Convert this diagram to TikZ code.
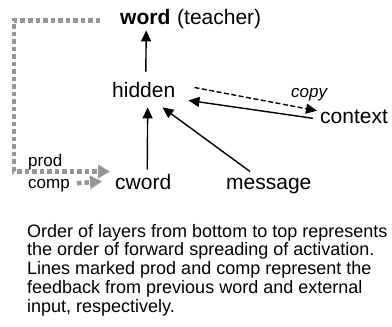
\documentclass[tikz,border=0pt]{standalone}
\usepackage{fontspec}
\setmainfont{Liberation Sans}
\usetikzlibrary{arrows.meta}

\definecolor{fbgray}{HTML}{969696}

\tikzset{
    lbl/.style = {inner sep=0pt, anchor=base west, font=\fontsize{21}{25}\selectfont},
    small/.style = {inner sep=0pt, anchor=base west, font=\fontsize{17}{20}\selectfont},
    arr/.style = {line width=1.4pt, -{Triangle[length=11pt,width=10pt]}},
    fb/.style = {draw=fbgray, line width=4.5pt, dash pattern=on 4.5pt off 3pt,
                 -{Triangle[length=12pt,width=13pt,fill=fbgray]}},
}

\begin{document}
\begin{tikzpicture}[x=1pt, y=-1pt]
            \useasboundingbox (0,0) rectangle (392,327);
            %Output layer
            \node [lbl] (word) at (120,24) {\textbf{word}};
            \node [lbl] (teacher) at (177,24) {(teacher)};
            %Hidden and context
            \node [lbl] (hidden) at (112,97) {hidden};
            \node [lbl] (context) at (320,123) {context};
            \node [small] (copy) at (291,97) {\itshape copy};
            %Input layer
            \node [lbl] (cword) at (115,189) {cword};
            \node [lbl] (message) at (226,189) {message};
            \node [small] (prod) at (28,166) {prod};
            \node [small] (comp) at (28,188) {comp};
            %Caption
            \node [inner sep=0pt, anchor=north west, align=left,
                   font=\fontsize{18}{18.7}\selectfont]
            (note) at (27,224) {Order of layers from bottom to top represents\\
                the order of forward spreading of activation.\\
                Lines marked prod and comp represent the\\
                feedback from previous word and external\\
                input, respectively.};

            \draw [arr, shorten <=10pt, shorten >=6pt]
                ([xshift=2pt]hidden.north) -- ([xshift=1pt]word.south);
            \draw [arr, shorten <=4pt, shorten >=10pt]
                ([xshift=4pt]cword.north) -- ([xshift=4pt]hidden.south);
            \draw [arr] ([xshift=24pt,yshift=6pt]message.north west)
                -- ([xshift=-13pt,yshift=-10pt]hidden.south east);
            \draw [arr] ([xshift=-7pt,yshift=-2pt]context.west)
                -- ([xshift=13pt,yshift=-3pt]hidden.south east);
            \draw [arr, dash pattern=on 5pt off 2.5pt] ([xshift=19pt,yshift=2pt]hidden.east)
                -- ([xshift=-3pt,yshift=-1.5pt]context.north west);

            %Feedback
            \draw [fb] ([xshift=-20pt,yshift=-4pt]word.west) -- ++(-86,0)
                |- ([xshift=-5pt,yshift=10pt]cword.west);
            \draw [fb] ([xshift=7pt,yshift=2pt]comp.east) -- ([xshift=-13pt]cword.west);

        \end{tikzpicture}
\end{document}
